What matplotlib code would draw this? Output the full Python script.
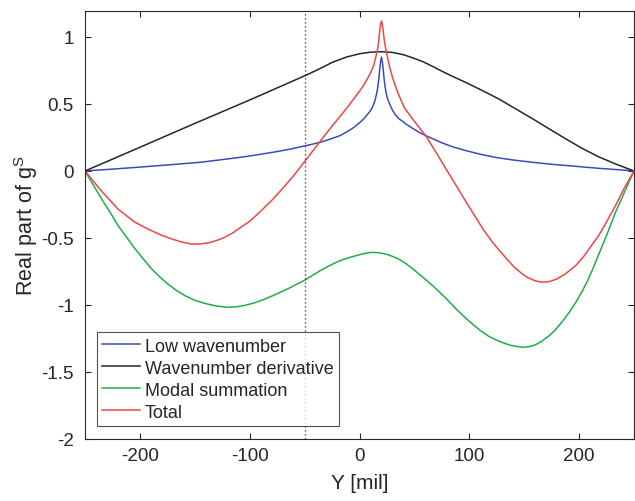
import matplotlib
matplotlib.use("Agg")
import matplotlib.pyplot as plt

# ---- data ----
black_x = [-250, -200, -150, -100, -75, -50, -37, -25, -12, 0, 10, 20, 30, 40, 50, 58, 66, 75, 85, 97,
           112, 127, 142, 158, 173, 188, 203, 218, 234, 250]
black_y = [0, 0.177, 0.355, 0.53, 0.62, 0.71, 0.76, 0.81, 0.85, 0.875, 0.887, 0.89, 0.885, 0.868, 0.84, 0.815, 0.783, 0.745, 0.705, 0.66,
           0.60, 0.537, 0.465, 0.388, 0.313, 0.239, 0.168, 0.105, 0.05, 0]

blue_x = [-250, -225, -200, -175, -145, -125, -104, -90, -75, -62, -54, -45, -36, -27, -18, -12, -6, 0, 4, 7, 10, 12,
          13.5, 14.5, 15.7, 16.7, 17.5, 18.2, 18.8, 19.3, 20,
          20.7, 21.2, 21.8, 22.5, 23.3, 24.3, 25.5, 27, 28.5, 30.3, 33, 36, 42.4, 50, 55, 60.6, 67, 75, 85, 97,
          110, 125, 140, 157.6, 175, 190, 205, 218, 235, 250]
blue_y = [0, 0.014, 0.029, 0.045, 0.065, 0.085, 0.107, 0.125, 0.145, 0.165, 0.18, 0.196, 0.214, 0.237, 0.263, 0.29, 0.32, 0.36, 0.39, 0.42, 0.45, 0.48,
          0.51, 0.54, 0.58, 0.63, 0.68, 0.74, 0.79, 0.82, 0.85,
          0.82, 0.79, 0.74, 0.68, 0.63, 0.58, 0.54, 0.51, 0.48, 0.45, 0.415, 0.39, 0.35, 0.31, 0.285, 0.263, 0.24, 0.21, 0.18, 0.152,
          0.125, 0.10, 0.082, 0.065, 0.05, 0.04, 0.029, 0.02, 0.01, 0]

green_x = [-250, -242, -234.8, -227, -219.7, -212, -205, -197, -189.4, -182, -175, -167, -159, -150, -140, -130, -119.7,
           -112, -104.5, -97, -90, -78.8, -65, -50, -42, -35, -27, -18, -9, 0, 6, 12, 18, 25, 30, 36.4, 43, 50, 58,
           66.7, 73, 80, 88, 97, 104, 110, 118, 127, 137, 148.5, 155, 160, 166, 172.7, 179, 185, 191, 197, 203, 208,
           213, 218, 222, 226, 230, 233, 238, 242, 246, 250]
green_y = [0, -0.11, -0.21, -0.31, -0.41, -0.495, -0.575, -0.655, -0.73, -0.79, -0.84, -0.89, -0.93, -0.965, -0.99, -1.008, -1.017,
           -1.013, -1.003, -0.987, -0.968, -0.93, -0.878, -0.815, -0.775, -0.74, -0.705, -0.67, -0.645, -0.625, -0.613, -0.607, -0.61, -0.622, -0.637, -0.66, -0.695, -0.74, -0.795,
           -0.856, -0.905, -0.96, -1.03, -1.10, -1.15, -1.19, -1.235, -1.27, -1.30, -1.316, -1.31, -1.298, -1.27, -1.23, -1.18, -1.12, -1.055, -0.98, -0.895, -0.815,
           -0.72, -0.62, -0.54, -0.46, -0.375, -0.31, -0.22, -0.145, -0.072, 0]

red_x = [-250, -242, -235, -227, -220, -212, -205, -197, -189, -180, -170, -161, -153, -145, -137, -130, -122.7, -115,
         -109, -100, -90, -78.8, -70, -60, -50, -42, -36, -30, -24, -18, -12, -6, 0, 4, 8, 11, 13, 14.5, 15.7, 16.7,
         17.5, 18.2, 18.8, 19.3, 20, 20.7, 21.2, 21.8, 22.5, 23.3, 24.2, 25.5, 27.3, 30, 33.3, 36.4, 41, 50, 60.6,
         70, 81.8, 90, 97, 105, 113, 121, 127, 134, 140, 147, 153, 160, 166.7, 173, 180, 188, 197, 204, 210, 218,
         225, 233, 241, 250]
red_y = [0, -0.08, -0.15, -0.22, -0.284, -0.335, -0.38, -0.415, -0.447, -0.48, -0.51, -0.532, -0.545, -0.545, -0.535, -0.518, -0.495, -0.46,
         -0.425, -0.375, -0.30, -0.21, -0.13, -0.035, 0.07, 0.155, 0.22, 0.283, 0.345, 0.405, 0.465, 0.53, 0.595, 0.643, 0.70, 0.75, 0.79, 0.84, 0.88, 0.92,
         0.97, 1.03, 1.07, 1.10, 1.12, 1.10, 1.07, 1.03, 0.98, 0.94, 0.90, 0.85, 0.78, 0.70, 0.62, 0.555, 0.47, 0.37, 0.26,
         0.135, -0.025, -0.135, -0.23, -0.335, -0.44, -0.53, -0.59, -0.655, -0.71, -0.76, -0.795, -0.82, -0.83, -0.825, -0.805, -0.765, -0.705, -0.64, -0.57, -0.48,
         -0.38, -0.26, -0.13, 0]

labels = ["Low wavenumber", "Wavenumber derivative", "Modal summation", "Total"]
xticks = [-200, -100, 0, 100, 200]
yticks = [-2, -1.5, -1, -0.5, 0, 0.5, 1]
ytick_labels = ["-2", "-1.5", "-1", "-0.5", "0", "0.5", "1"]
xtick_labels = ["-200", "-100", "0", "100", "200"]
vline_x = -50

# ---- styling ----
plt.rcParams["font.family"] = ["Liberation Sans", "DejaVu Sans"]
plt.rcParams["mathtext.fontset"] = "custom"
plt.rcParams["mathtext.rm"] = "Liberation Sans"
plt.rcParams["mathtext.it"] = "Liberation Sans"
txt = "#262626"

fig = plt.figure(figsize=(6.35, 5.02), dpi=100)
ax = fig.add_axes([85/635, 62/502, 549/635, 428/502])

lw = 1.1
ax.plot(blue_x, blue_y, color="#3a4db5", lw=lw, label=labels[0])
ax.plot(black_x, black_y, color="#262626", lw=lw, label=labels[1])
ax.plot(green_x, green_y, color="#1fae48", lw=lw, label=labels[2])
ax.plot(red_x, red_y, color="#ee4646", lw=lw, label=labels[3])
ax.axvline(vline_x, color="#262626", lw=0.9, ls=(0, (1, 2.2)))

ax.set_xlim(-250, 250)
ax.set_ylim(-2, 1.194)
ax.set_xticks(xticks)
ax.set_xticklabels(xtick_labels)
ax.set_yticks(yticks)
ax.set_yticklabels(ytick_labels)

ax.tick_params(direction="in", length=4, width=0.8, colors=txt, labelsize=13.5,
               top=True, right=True, pad=6)
ax.tick_params(axis="y", pad=8)
for s in ax.spines.values():
    s.set_color(txt)
    s.set_linewidth(0.8)

ax.set_xlabel("Y [mil]", fontsize=15, color=txt, labelpad=6)
ax.set_ylabel(r"Real part of g$^{\mathrm{S}}$", fontsize=15.5, color=txt, labelpad=1)

leg = ax.legend(loc="lower left", bbox_to_anchor=(0.0219, 0.030), borderaxespad=0,
                fontsize=13, frameon=True, fancybox=False, handlelength=2.1,
                handletextpad=0.25, labelspacing=0.28, borderpad=0.3)
leg.get_frame().set_edgecolor(txt)
leg.get_frame().set_linewidth(0.8)
for t in leg.get_texts():
    t.set_color(txt)

fig.savefig("out.png", dpi=100)
